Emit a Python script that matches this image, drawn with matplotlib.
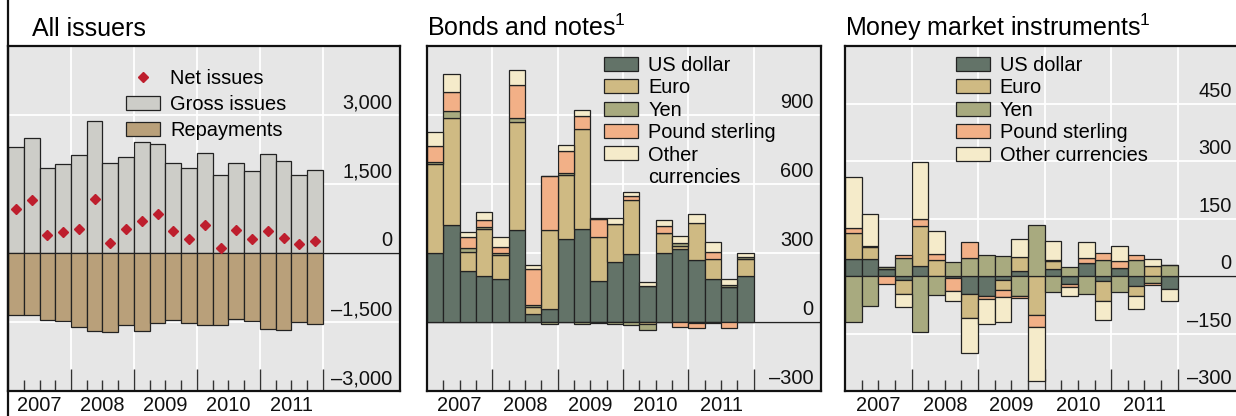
import matplotlib
matplotlib.use('Agg')
import matplotlib.pyplot as plt
import matplotlib.transforms as mtransforms
from matplotlib.lines import Line2D
import numpy as np

plt.rcParams['font.family'] = ['Liberation Sans', 'DejaVu Sans']
plt.rcParams['mathtext.default'] = 'regular'

# quarterly data, 2007 Q1 - 2011 Q4
years = ['2007', '2008', '2009', '2010', '2011']

# All issuers
gross = [2304, 2500, 1855, 1935, 2138, 2862, 1949, 2087, 2406, 2370,
         1956, 1848, 2174, 1688, 1949, 1775, 2145, 1993, 1688, 1804]
repay = [-1340, -1340, -1449, -1471, -1601, -1688, -1717, -1558, -1703, -1522,
         -1456, -1529, -1558, -1558, -1435, -1471, -1645, -1674, -1500, -1536]
net = [964, 1159, 399, 457, 529, 1167, 225, 514, 696, 855,
       486, 312, 616, 116, 493, 304, 486, 319, 196, 268]

# Bonds and notes, by currency
bn_usd = [298, 422, 221, 202, 185, 400, 36, 58, 363, 406,
          177, 262, 297, 158, 298, 317, 269, 186, 151, 199]
bn_eur = [390, 466, 83, 201, 107, 469, 29, 342, 278, 433,
          191, 165, 234, -10, 87, 14, 160, 87, 0, 77]
bn_jpy = [8, 31, 17, 11, 6, 17, 11, -8, 6, -8,
          -5, -8, -12, -25, 4, 11, -5, -5, 10, 8]
bn_gbp = [70, 80, 50, 29, 29, 145, 155, 235, 97, 55,
          78, 0, 18, 0, 28, -22, -22, 30, -26, 0]
bn_oth = [58, 78, 19, 37, 41, 64, 16, 0, 25, 29,
          8, 26, 16, 18, 26, 30, 39, 44, 28, 18]

# Money market instruments, by currency
mm_usd = [45, 44, 17, -11, 26, 0, -4, -48, -52, -11,
          12, 0, 18, -20, 34, -13, 20, -27, 0, -33]
mm_eur = [68, 31, 0, -35, 104, 41, 0, -62, 0, -26,
          38, -101, 20, 0, 0, -51, 0, -26, 25, 0]
mm_jpy = [-121, -77, 6, 48, -145, -49, 37, 48, 54, 52,
          -53, 132, -42, 24, -46, 43, -42, 43, -17, 30]
mm_gbp = [12, 4, -22, 8, 18, 16, -35, 40, -9, -18,
          -4, -31, 5, -9, 14, 17, 18, 11, -7, 0]
mm_oth = [134, 83, 0, -35, 149, 60, -26, -92, -64, -66,
          46, -142, 47, -24, 42, -51, 40, -33, 19, -31]

cur_names = ['US dollar', 'Euro', 'Yen', 'Pound sterling', 'Other currencies']
cur_colors = ['#637368', '#cfba83', '#a8aa7f', '#f2b087', '#f5ebca']

BG = '#e6e6e6'
EDGE = '#222222'
FS = 14.4
W, H = 1236, 416

x = np.arange(20) + 0.5

fig = plt.figure(figsize=(W / 100, H / 100), dpi=100)
bottom, height = 1 - 391 / H, 345 / H
ax1 = fig.add_axes([8 / W, bottom, 392 / W, height])
ax2 = fig.add_axes([427 / W, bottom, 394 / W, height])
ax3 = fig.add_axes([845 / W, bottom, 394 / W, height])


def fmt(v):
    s = f'{abs(v):,}'
    return ('\u2013' + s) if v < 0 else s


def style(ax, xmax, ylim, yticks):
    ax.set_facecolor(BG)
    ax.set_xlim(0, xmax)
    ax.set_ylim(*ylim)
    for s in ax.spines.values():
        s.set_linewidth(1.6)
        s.set_color('#111111')
    for v in yticks:
        ax.axhline(v, color='white', lw=1.3, zorder=0.5)
    for v in [4, 8, 12, 16, 20]:
        ax.axvline(v, color='white', lw=1.3, zorder=0.5)
    ax.axhline(0, color='#222222', lw=1.0, zorder=1)
    ax.set_yticks([])
    ax.set_xticks([4, 8, 12, 16, 20])
    ax.set_xticks([q for q in range(1, 20) if q % 4], minor=True)
    ax.tick_params(axis='x', which='major', direction='in', length=16,
                   width=1.0, color='#333333', labelbottom=False)
    ax.tick_params(axis='x', which='minor', direction='in', length=8,
                   width=1.0, color='#333333')
    tr = mtransforms.blended_transform_factory(ax.transAxes, ax.transData)
    off = mtransforms.ScaledTranslation(0, 2 / 72, fig.dpi_scale_trans)
    for v in yticks:
        ax.text(0.981, v, fmt(v), transform=tr + off, ha='right', va='bottom',
                fontsize=FS, color='#111111')
    trx = mtransforms.blended_transform_factory(ax.transData, ax.transAxes)
    for i, y in enumerate(years):
        ax.text(2 + 4 * i, -0.015, y, transform=trx, ha='center', va='top',
                fontsize=FS, color='#111111')


def stacked(ax, series):
    pos = np.zeros(20)
    neg = np.zeros(20)
    handles = []
    for vals, c, name in zip(series, cur_colors, cur_names):
        vals = np.asarray(vals, float)
        b = np.where(vals >= 0, pos, neg)
        h = ax.bar(x, vals, width=1, bottom=b, color=c, edgecolor=EDGE,
                   linewidth=0.9, label=name, zorder=2)
        handles.append(h)
        pos += np.clip(vals, 0, None)
        neg += np.clip(vals, None, 0)
    return handles


leg_kw = dict(fontsize=FS, handlelength=1.7, handleheight=0.7,
              handletextpad=0.5, borderpad=0,
              borderaxespad=0, frameon=False, loc='upper left')

# panel 1
style(ax1, 20 * 392 / 315, (-3000, 4500), [-3000, -1500, 0, 1500, 3000])
hg = ax1.bar(x, gross, width=1, color='#cdcdc8', edgecolor=EDGE, linewidth=0.9, zorder=2)
hr = ax1.bar(x, repay, width=1, color='#b9a07a', edgecolor=EDGE, linewidth=0.9, zorder=2)
hn, = ax1.plot(x, net, 'D', color='#be1e2d', markersize=5.2, zorder=3, linestyle='none')
ax1.legend([hn, hg, hr], ['Net issues', 'Gross issues', 'Repayments'],
           bbox_to_anchor=(0.301, 0.933), numpoints=1, labelspacing=0.35, **leg_kw)

# panel 2
style(ax2, 20 * 394 / 326.7, (-300, 1200), [-300, 0, 300, 600, 900])
h2 = stacked(ax2, [bn_usd, bn_eur, bn_jpy, bn_gbp, bn_oth])
leg2 = ax2.legend(h2, ['US dollar', 'Euro', 'Yen', 'Pound sterling', 'Other\ncurrencies'],
                  bbox_to_anchor=(0.45, 0.972), labelspacing=0.175, **leg_kw)
# keep the last handle level with the first line of its two-line label
leg2._legend_handle_box.get_children()[0].get_children()[-1].align = 'top'

# panel 3
style(ax3, 20 * 394 / 332.7, (-300, 600), [-300, -150, 0, 150, 300, 450])
h3 = stacked(ax3, [mm_usd, mm_eur, mm_jpy, mm_gbp, mm_oth])
ax3.legend(h3, cur_names, bbox_to_anchor=(0.281, 0.972), labelspacing=0.175, **leg_kw)

# panel titles
fig.text(32 / W, 1 - 36 / H, 'All issuers', fontsize=18, va='baseline')
fig.text(427 / W, 1 - 36 / H, 'Bonds and notes$^1$', fontsize=18, va='baseline')
fig.text(845 / W, 1 - 36 / H, 'Money market instruments$^1$', fontsize=18, va='baseline')

fig.add_artist(Line2D([7.5 / W, 7.5 / W], [0, 1], color='#111111', lw=1.6,
                      transform=fig.transFigure))

fig.savefig('out.png', dpi=100)
